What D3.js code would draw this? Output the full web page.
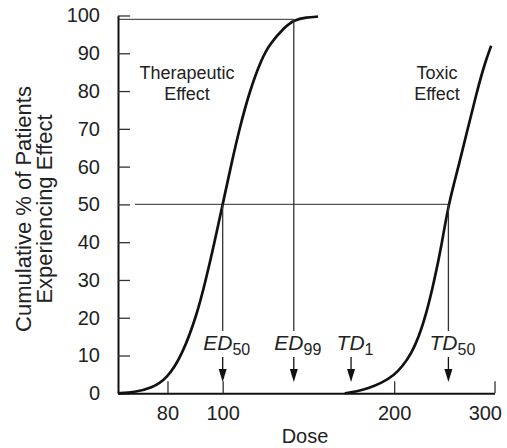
<!DOCTYPE html>
<html>
<head>
<meta charset="utf-8">
<script src="https://cdn.jsdelivr.net/npm/d3@7"></script>
<style>
  body { margin: 0; background: #fff; }
  svg text { font-family: "Liberation Sans", Arial, sans-serif; fill: #222; }
</style>
</head>
<body>
<div id="chart"></div>
<script>
// values (dose on a log axis, % of patients)
var doseTicks = [80, 100, 200, 300];
var pctTicks = [0, 10, 20, 30, 40, 50, 60, 70, 80, 90, 100];

var therapeuticDose = [65.5, 70, 75, 80, 84.8, 90, 93.4, 96.6, 100, 103.5, 107, 111.5, 117, 121, 128.6, 133.3, 140.3, 147];
var therapeuticPct  = [0, 0.3, 1.3, 4, 10, 20.5, 30, 39.5, 50, 60.5, 70, 80, 88.5, 92.5, 97, 98.8, 99.5, 99.7];

var toxicDose = [163.8, 172, 180, 190, 200, 207, 214.3, 221, 227.7, 235.4, 242.8, 249, 260.4, 269.2, 278.5, 287.9, 296];
var toxicPct  = [0, 0.5, 1.3, 2.7, 4.8, 7.2, 10.5, 15, 21, 30, 40, 50, 61, 70, 79, 87, 92];

// marker arrows: name, subscript, dose, level of the guide line (null = none)
var markerName  = ["ED", "ED", "TD", "TD"];
var markerSub   = ["50", "99", "1", "50"];
var markerDose  = [100, 133.3, 168, 249];
var markerLevel = [50, 99, null, 50];

var width = 507, height = 448;

var svg = d3.select("#chart")
    .append("svg")
    .attr("width", width)
    .attr("height", height);

var x = d3.scaleLog()
    .domain([65.5, 300])
    .range([118, 494.5]);

var y = d3.scaleLinear()
    .domain([0, 100])
    .range([393.3, 15.5]);

// guide lines (99% and 50%)
svg.append("line")
    .attr("x1", x.range()[0]).attr("x2", x(markerDose[1]))
    .attr("y1", y(99)).attr("y2", y(99))
    .attr("stroke", "#555").attr("stroke-width", 1.3);

svg.append("line")
    .attr("x1", x.range()[0] + 17).attr("x2", x(markerDose[3]))
    .attr("y1", y(50)).attr("y2", y(50))
    .attr("stroke", "#555").attr("stroke-width", 1.3);

// axes
var yAxis = svg.append("g")
    .attr("transform", "translate(" + x.range()[0] + ",0)")
    .call(d3.axisLeft(y).tickValues(pctTicks).tickSizeInner(-12).tickSizeOuter(0).tickPadding(18));

var xAxis = svg.append("g")
    .attr("transform", "translate(0," + y(0) + ")")
    .call(d3.axisBottom(x).tickValues(doseTicks).tickFormat(d3.format("d")).tickSizeInner(-12).tickSizeOuter(0).tickPadding(13));

[yAxis, xAxis].forEach(function (g) {
    g.select(".domain").attr("stroke", "#111").attr("stroke-width", 2);
    g.selectAll(".tick line").attr("stroke", "#333").attr("stroke-width", 1.3);
    g.selectAll(".tick text")
        .style("font-size", "20px")
        .style("font-family", "'Liberation Sans', Arial, sans-serif")
        .attr("fill", "#222");
});
// last dose label sits left of its tick so it stays on the page
xAxis.selectAll(".tick text")
    .filter(function (d) { return d === 300; })
    .attr("text-anchor", "end")
    .attr("x", 7);

// axis titles
svg.append("text")
    .attr("x", 305).attr("y", 443)
    .attr("text-anchor", "middle")
    .style("font-size", "20px")
    .text("Dose");

var yTitle = svg.append("text")
    .attr("transform", "translate(31,209) rotate(-90)")
    .attr("text-anchor", "middle")
    .style("font-size", "22px");
yTitle.append("tspan").attr("x", 0).attr("y", 0).text("Cumulative % of Patients");
yTitle.append("tspan").attr("x", 0).attr("y", 21).text("Experiencing Effect");

// curves
var line = d3.line()
    .x(function (d) { return x(d[0]); })
    .y(function (d) { return y(d[1]); })
    .curve(d3.curveBasis);

svg.append("path")
    .datum(d3.zip(therapeuticDose, therapeuticPct))
    .attr("d", line)
    .attr("fill", "none")
    .attr("stroke", "#111")
    .attr("stroke-width", 2.7);

svg.append("path")
    .datum(d3.zip(toxicDose, toxicPct))
    .attr("d", line)
    .attr("fill", "none")
    .attr("stroke", "#111")
    .attr("stroke-width", 2.7);

// curve names
function twoLines(cx, lines) {
    var t = svg.append("text")
        .attr("text-anchor", "middle")
        .style("font-size", "18px")
        .attr("fill", "#333");
    lines.forEach(function (s, i) {
        t.append("tspan").attr("x", cx).attr("y", 79 + i * 21).text(s);
    });
}
twoLines(187, ["Therapeutic", "Effect"]);
twoLines(437, ["Toxic", "Effect"]);

// markers: vertical drop line, label, arrow
var labelTop = 331, labelBase = 350, stemTop = 357, tip = 382;
markerDose.forEach(function (dose, i) {
    var px = x(dose);
    if (markerLevel[i] !== null) {
        svg.append("line")
            .attr("x1", px).attr("x2", px)
            .attr("y1", y(markerLevel[i])).attr("y2", labelTop)
            .attr("stroke", "#333").attr("stroke-width", 1.3);
    }
    var t = svg.append("text")
        .attr("x", px + 4).attr("y", labelBase)
        .attr("text-anchor", "middle");
    t.append("tspan")
        .style("font-size", "21px")
        .style("font-style", "italic")
        .text(markerName[i]);
    t.append("tspan")
        .attr("dy", 5)
        .style("font-size", "16px")
        .text(markerSub[i]);

    svg.append("line")
        .attr("x1", px).attr("x2", px)
        .attr("y1", stemTop).attr("y2", tip - 8)
        .attr("stroke", "#111").attr("stroke-width", 1.3);
    svg.append("path")
        .attr("d", "M" + (px - 4) + "," + (tip - 13) + "L" + (px + 4) + "," + (tip - 13) + "L" + px + "," + tip + "Z")
        .attr("fill", "#111");
});
</script>
</body>
</html>
